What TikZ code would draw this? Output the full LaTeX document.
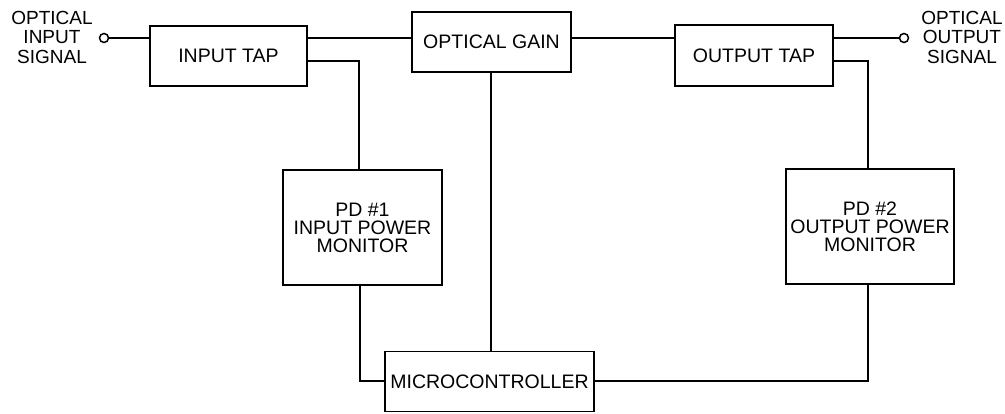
\documentclass[tikz,border=0pt]{standalone}
\usepackage{fontspec}
\setmainfont{Liberation Sans}
\begin{document}
\begin{tikzpicture}[x=1pt,y=-1pt,
  blk/.style={draw,line width=1.8pt,minimum width=#1,inner sep=0pt,align=center,font=\fontsize{19.5}{18}\selectfont},
  wire/.style={line width=1.8pt},
  port/.style={circle,draw,line width=1.5pt,fill=white,minimum size=9pt,inner sep=0pt},
  lbl/.style={align=center,inner sep=0pt,font=\fontsize{19}{19.5}\selectfont}]
\useasboundingbox (0,0) rectangle (1005,414);
\node[blk=157pt,minimum height=60pt] (intap) at (228.5,56) {INPUT TAP};
\node[blk=159pt,minimum height=60pt] (gain) at (491.5,42) {OPTICAL GAIN};
\node[blk=158pt,minimum height=61pt] (outtap) at (754,55.5) {OUTPUT TAP};
\node[blk=159pt,minimum height=115pt] (pd1) at (362.5,227.5) {PD \#1\\INPUT POWER\\MONITOR};
\node[blk=168pt,minimum height=115pt] (pd2) at (870,226.5) {PD \#2\\OUTPUT POWER\\MONITOR};
\node[blk=209pt,minimum height=60pt] (mc) at (489.5,381.5) {MICROCONTROLLER};
\node[port] (pin) at (104,38) {};
\node[port] (pout) at (904,38) {};
\node[lbl] (tin) at (52,37) {OPTICAL\\INPUT\\SIGNAL};
\node[lbl] (tout) at (962,37) {OPTICAL\\OUTPUT\\SIGNAL};
\coordinate (j1) at (359,61);
\coordinate (j2) at (868,61);
\coordinate (k1) at (360,381);
\coordinate (k2) at (868,381);
\coordinate (g) at (491,72);
\draw[wire] (pin.east) -- (pin.east -| intap.west);
\draw[wire] (intap.east |- pin) -- (gain.west |- pin);
\draw[wire] (gain.east |- pin) -- (outtap.west |- pin);
\draw[wire] (outtap.east |- pout) -- (pout.west);
\draw[wire] (intap.east |- j1) -- (j1) -- (j1 |- pd1.north);
\draw[wire] (outtap.east |- j2) -- (j2) -- (j2 |- pd2.north);
\draw[wire] (k1 |- pd1.south) -- (k1) -- (k1 -| mc.west);
\draw[wire] (k2 |- pd2.south) -- (k2) -- (k2 -| mc.east);
\draw[wire] (g |- gain.south) -- (g |- mc.north);
\end{tikzpicture}
\end{document}
